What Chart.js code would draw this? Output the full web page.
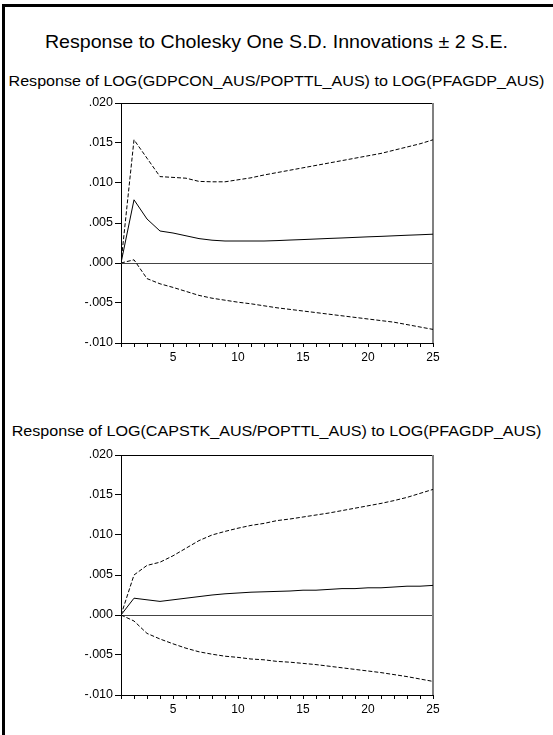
<!DOCTYPE html>
<html>
<head>
<meta charset="utf-8">
<script src="https://cdn.jsdelivr.net/npm/chart.js@4"></script>
<style>
  body { margin: 0; background: #fff; font-family: 'Liberation Sans', Arial, sans-serif; }
  #page { position: relative; width: 553px; height: 735px; overflow: hidden; }
  #frame { position: absolute; left: 2px; top: 4px; width: 600px; height: 800px; border-left: 3px solid #000; border-top: 3px solid #000; }
  .title { position: absolute; left: 0; width: 553px; text-align: center; color: #000; white-space: nowrap; transform-origin: 50% 50%; }
  #main-title { top: 31px; font-size: 18.5px; transform: scaleX(1.06); }
  .sub { font-size: 14px; transform: scaleX(1.15); }
  .box { position: absolute; left: 0; width: 553px; height: 279px; }
</style>
</head>
<body>
<div id="page">
  <div id="frame"></div>
  <div id="main-title" class="title">Response to Cholesky One S.D. Innovations ± 2 S.E.</div>
  <div class="title sub" style="top:73px">Response of LOG(GDPCON_AUS/POPTTL_AUS) to LOG(PFAGDP_AUS)</div>
  <div class="box" style="top:90px"><canvas id="chart-gdp"></canvas></div>
  <div class="title sub" style="top:423px">Response of LOG(CAPSTK_AUS/POPTTL_AUS) to LOG(PFAGDP_AUS)</div>
  <div class="box" style="top:442px"><canvas id="chart-cap"></canvas></div>
</div>
<script>
// periods
const periods = [1, 2, 3, 4, 5, 6, 7, 8, 9, 10, 11, 12, 13, 14, 15, 16, 17, 18, 19, 20, 21, 22, 23, 24, 25];

// response of GDPCON/POPTTL
const gdpResp  = [0, .0079, .0055, .0040, .00375, .0034, .00305, .00285, .00275, .00275, .00275, .00275, .0028, .00287, .00293, .0030, .00307, .00313, .0032, .00327, .00333, .0034, .00347, .00353, .0036];
const gdpUpper = [0, .0154, .0131, .0108, .0107, .0106, .0102, .01015, .01015, .0104, .01065, .0110, .0113, .0116, .0119, .0122, .0125, .0128, .0131, .0134, .0137, .0141, .0145, .0149, .0154];
const gdpLower = [0, .0004, -.00195, -.0026, -.00305, -.00355, -.00405, -.0044, -.00465, -.0049, -.0051, -.00535, -.0056, -.0058, -.0060, -.0062, -.0064, -.0066, -.0068, -.0070, -.0072, -.0074, -.0077, -.0080, -.0083];

// response of CAPSTK/POPTTL
const capResp  = [0, .0021, .0019, .0017, .0019, .0021, .0023, .0025, .00265, .00275, .00285, .0029, .00295, .0030, .0031, .0031, .0032, .0033, .0033, .0034, .0034, .0035, .0036, .0036, .0037];
const capUpper = [0, .0050, .0062, .0066, .0074, .00835, .0093, .0100, .01045, .01085, .0112, .01145, .0118, .0120, .01225, .0125, .01275, .01305, .01335, .01365, .01395, .0143, .0147, .0152, .0157];
const capLower = [0, -.00075, -.0023, -.0030, -.0036, -.00415, -.0046, -.0049, -.00515, -.0053, -.0055, -.0056, -.0058, -.0059, -.00605, -.0062, -.0064, -.0066, -.0068, -.0070, -.0072, -.00745, -.0077, -.0080, -.0083];

// y axis
const yMin = -0.010, yMax = 0.020, yStep = 0.005;

const font = "'Liberation Sans', Arial, sans-serif";

// frame + zero line
const framePlugin = {
    id: 'frame',
    beforeDatasetsDraw(chart) {
        const ctx = chart.ctx;
        const a = chart.chartArea;
        const y0 = chart.scales.y.getPixelForValue(0);
        ctx.save();
        ctx.strokeStyle = '#444';
        ctx.lineWidth = 1;
        ctx.beginPath();
        ctx.moveTo(a.left, Math.round(y0) + 0.5);
        ctx.lineTo(a.right, Math.round(y0) + 0.5);
        ctx.stroke();
        ctx.strokeStyle = '#000';
        ctx.beginPath();
        ctx.moveTo(a.left, a.top + 0.5);
        ctx.lineTo(a.right, a.top + 0.5);
        ctx.stroke();
        ctx.strokeStyle = '#808080';
        ctx.lineWidth = 2;
        ctx.beginPath();
        ctx.moveTo(a.right, a.top);
        ctx.lineTo(a.right, a.bottom);
        ctx.stroke();
        ctx.restore();
    }
};

function toPoints(vals) {
    return vals.map((v, i) => ({ x: periods[i], y: v }));
}

function makeChart(id, resp, upper, lower) {
    const line = (vals, dashed) => ({
        data: toPoints(vals),
        borderColor: '#000',
        borderWidth: 1,
        borderDash: dashed ? [4, 2] : [],
        pointRadius: 0,
        tension: 0,
        fill: false
    });
    return new Chart(document.getElementById(id), {
        type: 'line',
        data: { datasets: [line(upper, true), line(resp, false), line(lower, true)] },
        options: {
            responsive: true,
            maintainAspectRatio: false,
            animation: false,
            layout: { padding: { left: 61, right: 120, top: 13, bottom: 0 } },
            plugins: { legend: { display: false }, tooltip: { enabled: false } },
            scales: {
                x: {
                    type: 'linear',
                    min: 1, max: 25,
                    afterFit: (s) => { s.height = 26; },
                    grid: { drawOnChartArea: false, drawTicks: true, tickLength: 4, color: '#000' },
                    border: { display: true, color: '#000', width: 1 },
                    ticks: {
                        stepSize: 1,
                        autoSkip: false,
                        maxRotation: 0,
                        padding: 3,
                        color: '#000',
                        font: { family: font, size: 12 },
                        callback: (v) => (v % 5 === 0 ? String(v) : '')
                    }
                },
                y: {
                    min: yMin, max: yMax,
                    afterFit: (s) => { s.width = 60; },
                    grid: { drawOnChartArea: false, drawTicks: true, tickLength: 6, color: '#000' },
                    border: { display: true, color: '#000', width: 1 },
                    ticks: {
                        stepSize: yStep,
                        padding: 2,
                        color: '#000',
                        font: { family: font, size: 12.5 },
                        callback: (v) => v.toFixed(3).replace('0.', '.')
                    }
                }
            }
        },
        plugins: [framePlugin]
    });
}

makeChart('chart-gdp', gdpResp, gdpUpper, gdpLower);
makeChart('chart-cap', capResp, capUpper, capLower);
</script>
</body>
</html>
